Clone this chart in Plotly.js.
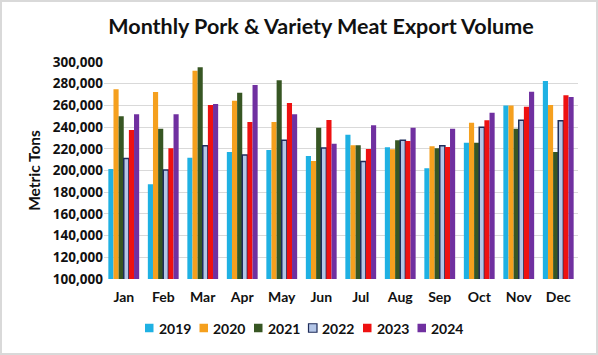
<!DOCTYPE html>
<html>
<head>
<meta charset="utf-8">
<script src="https://cdn.plot.ly/plotly-3.0.1.min.js"></script>
<style>
  html, body { margin: 0; padding: 0; background: #fff; }
  #chart { width: 598px; height: 355px; box-sizing: border-box; border: 2px solid #d9d9d9; }
</style>
</head>
<body>
<div id="chart"></div>
<script>
const months = ["Jan","Feb","Mar","Apr","May","Jun","Jul","Aug","Sep","Oct","Nov","Dec"];
const years = ["2019","2020","2021","2022","2023","2024"];
const v2019 = [201400,187300,211800,217000,218900,213400,233000,221400,202000,225600,259800,282500];
const v2020 = [274800,272400,292000,264300,244700,208800,223200,219500,222300,244100,259800,260400];
const v2021 = [250000,238500,295100,271700,283100,239500,223200,227800,220500,225600,238500,217000];
const v2022 = [211000,200500,222900,214300,227800,220700,208300,227800,222900,239800,246200,245900];
const v2023 = [237300,220500,260400,244700,262200,246500,219800,227200,221700,246200,258800,269300];
const v2024 = [251800,251800,261300,278800,251800,224700,241600,239500,238500,253300,272600,267700];
const seriesValues = [v2019, v2020, v2021, v2022, v2023, v2024];
const colors = ["#1fb1e3", "#f5a01e", "#375623", "#b4c6e7", "#ee1111", "#7030a0"];
const lineColors = ["rgba(0,0,0,0)", "rgba(0,0,0,0)", "rgba(0,0,0,0)", "#1f2d5a", "rgba(0,0,0,0)", "rgba(0,0,0,0)"];

const FONT = "Lato, 'Open Sans', sans-serif";
const TICKFONT = "'Open Sans', Lato, sans-serif";
const W = 594, H = 351;

const traces = years.map((y, i) => ({
  type: "bar",
  name: y,
  x: months,
  y: seriesValues[i],
  marker: { color: colors[i], line: { color: lineColors[i], width: i === 3 ? 1.5 : 0 } },
  hoverinfo: "x+y+name"
}));

// Compact legend drawn as shapes + text annotations
const legendStartX = 145;
const legendPitch = 54.5;
const legendY = 328;
const sq = 8.5;
const shapes = [];
const annotations = [];
years.forEach((y, i) => {
  const cx = legendStartX + i * legendPitch;
  shapes.push({
    type: "rect", xref: "paper", yref: "paper",
    x0: (cx - 2 - 102) / (W - 102 - 18), x1: (cx - 2 + sq - 102) / (W - 102 - 18),
    y0: (H - 74 - (legendY - 2 + sq / 2)) / (H - 60 - 74), y1: (H - 74 - (legendY - 2 - sq / 2)) / (H - 60 - 74),
    fillcolor: colors[i],
    line: { color: i === 3 ? lineColors[i] : colors[i], width: i === 3 ? 1.2 : 0 }
  });
  annotations.push({
    text: "<b>" + y + "</b>", showarrow: false,
    xref: "paper", yref: "paper",
    x: (cx - 2 + sq + 3 - 102) / (W - 102 - 18), xanchor: "left",
    y: (H - 74 - (legendY - 2)) / (H - 60 - 74), yanchor: "middle",
    font: { family: FONT, size: 14, color: "#111111" }
  });
});

const layout = {
  width: W,
  height: H,
  margin: { l: 102, r: 18, t: 60, b: 74 },
  paper_bgcolor: "#ffffff",
  plot_bgcolor: "#ffffff",
  barmode: "group",
  bargap: 0.22,
  bargroupgap: 0,
  title: {
    text: "<b>Monthly Pork & Variety Meat Export Volume</b>",
    font: { family: FONT, size: 21.5, color: "#111111" },
    xref: "container", x: 0.537, xanchor: "center",
    yref: "container", y: 0.93, yanchor: "middle"
  },
  xaxis: {
    type: "category",
    tickfont: { family: FONT, size: 14, color: "#111111", weight: "bold" },
    ticklabelstandoff: 8,
    showline: false,
    showgrid: false,
    ticks: "",
    ticklen: 0
  },
  yaxis: {
    range: [100000, 300000],
    dtick: 20000,
    tickformat: ",d",
    tickfont: { family: TICKFONT, size: 13.5, color: "#111111", weight: "bold" },
    gridcolor: "#d9d9d9",
    gridwidth: 1,
    zeroline: false,
    showline: false,
    ticks: "",
    title: { text: "<b>Metric Tons</b>", font: { family: FONT, size: 15.5, color: "#111111" }, standoff: 8 }
  },
  showlegend: false,
  shapes: shapes,
  annotations: annotations
};

Plotly.newPlot("chart", traces, layout, { displayModeBar: false, staticPlot: true });
</script>
</body>
</html>
